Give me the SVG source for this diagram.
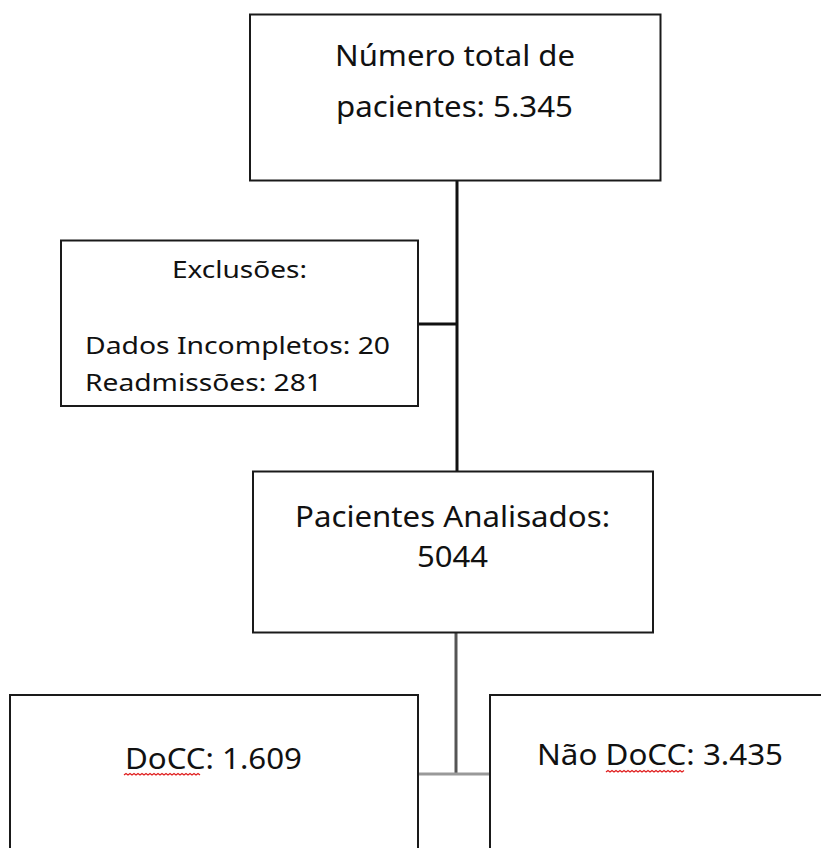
<svg xmlns="http://www.w3.org/2000/svg" width="821" height="848" viewBox="0 0 821 848">
<style>
.box{fill:#fff;stroke:#1a1a1a;stroke-width:2}
.t{font-family:"Noto Sans","Open Sans","Liberation Sans",sans-serif;fill:#111}
.big{font-size:29px}
.low{font-size:29px}
.mid{font-size:23px}
.sq{fill:none;stroke:#e02020;stroke-width:1.3}
</style>
<rect width="821" height="848" fill="#fff"/>
<g id="connectors">
<line x1="457" y1="181" x2="457" y2="471" stroke="#111" stroke-width="3"/>
<line x1="418" y1="324" x2="457" y2="324" stroke="#111" stroke-width="3"/>
<line x1="456" y1="633" x2="456" y2="774" stroke="#555" stroke-width="3"/>
<line x1="418" y1="774" x2="490" y2="774" stroke="#999" stroke-width="3"/>
</g>
<g id="total">
<rect class="box" x="250" y="14.5" width="410.5" height="166"/>
<text class="t big" x="335" y="66" textLength="240" lengthAdjust="spacingAndGlyphs">Número total de</text>
<text class="t big" x="336" y="117" textLength="237" lengthAdjust="spacingAndGlyphs">pacientes: 5.345</text>
</g>
<g id="exclusoes">
<rect class="box" x="61" y="240.5" width="357" height="165.5"/>
<text class="t mid" x="172" y="278" textLength="135" lengthAdjust="spacingAndGlyphs">Exclusões:</text>
<text class="t mid" x="85" y="354" textLength="305" lengthAdjust="spacingAndGlyphs">Dados Incompletos: 20</text>
<text class="t mid" x="85" y="390.5" textLength="237" lengthAdjust="spacingAndGlyphs">Readmissões: 281</text>
</g>
<g id="analisados">
<rect class="box" x="253" y="471.5" width="400" height="161"/>
<text class="t big" x="295" y="527" textLength="315" lengthAdjust="spacingAndGlyphs">Pacientes Analisados:</text>
<text class="t big" x="417" y="567" textLength="71" lengthAdjust="spacingAndGlyphs">5044</text>
</g>
<g id="docc">
<rect class="box" x="10" y="695" width="408" height="200"/>
<text class="t low" x="125" y="769" textLength="177" lengthAdjust="spacingAndGlyphs">DoCC: 1.609</text>
<path class="sq" d="M124 775 l2 -1.5 l2 1.5 l2 -1.5 l2 1.5 l2 -1.5 l2 1.5 l2 -1.5 l2 1.5 l2 -1.5 l2 1.5 l2 -1.5 l2 1.5 l2 -1.5 l2 1.5 l2 -1.5 l2 1.5 l2 -1.5 l2 1.5 l2 -1.5 l2 1.5 l2 -1.5 l2 1.5 l2 -1.5 l2 1.5 l2 -1.5 l2 1.5 l2 -1.5 l2 1.5 l2 -1.5 l2 1.5 l2 -1.5 l2 1.5 l2 -1.5 l2 1.5 l2 -1.5 l2 1.5 l2 -1.5 l2 1.5"/>
</g>
<g id="naodocc">
<rect class="box" x="490" y="695" width="340" height="200"/>
<text class="t low" x="537" y="765" textLength="246" lengthAdjust="spacingAndGlyphs">Não DoCC: 3.435</text>
<path class="sq" d="M606 772 l2 -1.5 l2 1.5 l2 -1.5 l2 1.5 l2 -1.5 l2 1.5 l2 -1.5 l2 1.5 l2 -1.5 l2 1.5 l2 -1.5 l2 1.5 l2 -1.5 l2 1.5 l2 -1.5 l2 1.5 l2 -1.5 l2 1.5 l2 -1.5 l2 1.5 l2 -1.5 l2 1.5 l2 -1.5 l2 1.5 l2 -1.5 l2 1.5 l2 -1.5 l2 1.5 l2 -1.5 l2 1.5 l2 -1.5 l2 1.5 l2 -1.5 l2 1.5 l2 -1.5 l2 1.5 l2 -1.5 l2 1.5 l2 -1.5"/>
</g>
</svg>
